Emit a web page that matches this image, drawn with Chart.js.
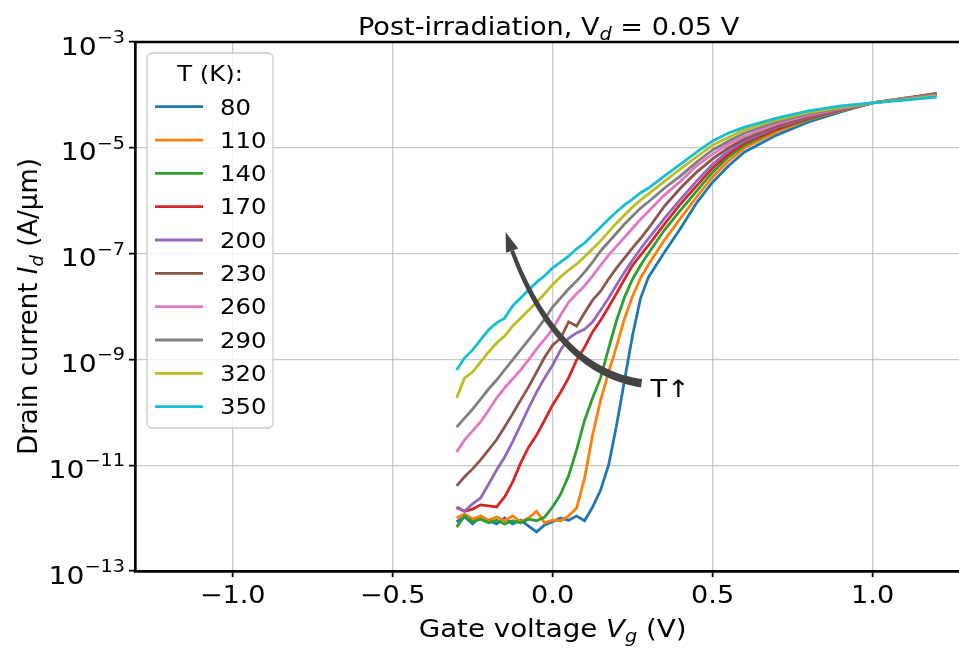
<!DOCTYPE html>
<html>
<head>
<meta charset="utf-8">
<script src="https://cdn.jsdelivr.net/npm/chart.js@4.4.0/dist/chart.umd.min.js"></script>
<style>
    html, body { margin: 0; padding: 0; background: #ffffff; }
    #caixa { position: relative; width: 959px; height: 648px; }
</style>
</head>
<body>
<div id="caixa"><canvas id="graficoIdVg"></canvas></div>
<script>

// Tensão de porta (V), comum a todas as curvas
var vg = [-0.3, -0.275, -0.25, -0.225, -0.2, -0.175, -0.15, -0.125, -0.1, -0.075,
    -0.05, -0.025, 0.0, 0.025, 0.05, 0.075, 0.1, 0.125, 0.15, 0.175,
    0.2, 0.225, 0.25, 0.275, 0.3, 0.35, 0.4, 0.45, 0.5, 0.55,
    0.6, 0.7, 0.8, 0.9, 1.0, 1.1, 1.2];

// Temperaturas da legenda (K)
var temperaturas = [80, 110, 140, 170, 200, 230, 260, 290, 320, 350];

// log10 da corrente de dreno (A/um), uma lista por temperatura
var logId80 = [-12.07, -11.98, -12.11, -11.96, -12.05, -12.11, -12.00, -12.11, -12.04, -12.15,
    -12.26, -12.13, -12.07, -12.00, -12.04, -11.96, -12.05, -11.79, -11.47, -11.00,
    -10.24, -9.39, -8.54, -7.84, -7.44, -6.97, -6.52, -6.04, -5.65, -5.34,
    -5.08, -4.76, -4.51, -4.32, -4.15, -4.06, -3.98];
var logId110 = [-12.00, -11.92, -12.02, -11.96, -12.04, -11.98, -12.05, -11.96, -12.07, -12.00,
    -11.87, -12.09, -12.04, -12.05, -11.96, -11.81, -11.24, -10.43, -9.77, -9.24,
    -8.75, -8.22, -7.80, -7.46, -7.20, -6.74, -6.33, -5.93, -5.55, -5.25,
    -5.00, -4.70, -4.47, -4.30, -4.15, -4.06, -3.98];
var logId140 = [-12.17, -11.96, -12.07, -12.02, -12.09, -12.04, -12.11, -12.05, -12.09, -12.02,
    -12.05, -11.98, -11.79, -11.55, -11.20, -10.71, -10.15, -9.73, -9.35, -8.79,
    -8.26, -7.82, -7.48, -7.22, -6.99, -6.55, -6.18, -5.82, -5.46, -5.17,
    -4.95, -4.66, -4.46, -4.29, -4.15, -4.07, -3.98];
var logId170 = [-11.79, -11.87, -11.83, -11.75, -11.77, -11.79, -11.60, -11.32, -10.96, -10.66,
    -10.43, -10.15, -9.86, -9.62, -9.35, -9.01, -8.77, -8.48, -8.26, -8.01,
    -7.75, -7.48, -7.22, -7.03, -6.84, -6.44, -6.06, -5.72, -5.38, -5.12,
    -4.91, -4.65, -4.44, -4.29, -4.15, -4.07, -3.98];
var logId200 = [-11.81, -11.87, -11.73, -11.62, -11.36, -11.09, -10.85, -10.56, -10.24, -9.92,
    -9.62, -9.35, -9.11, -8.82, -8.60, -8.50, -8.43, -8.29, -8.07, -7.84,
    -7.59, -7.35, -7.12, -6.91, -6.71, -6.33, -5.97, -5.63, -5.31, -5.06,
    -4.87, -4.61, -4.42, -4.28, -4.15, -4.07, -3.98];
var logId230 = [-11.39, -11.22, -11.07, -10.90, -10.71, -10.52, -10.28, -10.03, -9.77, -9.52,
    -9.24, -8.96, -8.73, -8.60, -8.29, -8.37, -8.12, -7.88, -7.71, -7.48,
    -7.27, -7.08, -6.89, -6.71, -6.52, -6.10, -5.76, -5.46, -5.21, -5.00,
    -4.83, -4.59, -4.40, -4.27, -4.15, -4.07, -3.97];
var logId260 = [-10.75, -10.52, -10.35, -10.18, -9.96, -9.73, -9.54, -9.37, -9.20, -9.01,
    -8.80, -8.62, -8.43, -8.16, -7.92, -7.76, -7.61, -7.42, -7.22, -7.03,
    -6.86, -6.69, -6.52, -6.35, -6.20, -5.89, -5.63, -5.34, -5.12, -4.93,
    -4.78, -4.55, -4.38, -4.26, -4.15, -4.07, -4.00];
var logId290 = [-10.28, -10.11, -9.94, -9.75, -9.56, -9.39, -9.20, -9.01, -8.82, -8.63,
    -8.44, -8.24, -8.01, -7.84, -7.67, -7.52, -7.35, -7.16, -6.95, -6.78,
    -6.61, -6.44, -6.29, -6.14, -6.02, -5.76, -5.53, -5.27, -5.04, -4.87,
    -4.72, -4.51, -4.36, -4.25, -4.15, -4.08, -4.01];
var logId320 = [-9.73, -9.35, -9.24, -9.05, -8.86, -8.69, -8.56, -8.37, -8.22, -8.07,
    -7.92, -7.76, -7.59, -7.44, -7.31, -7.20, -7.06, -6.91, -6.76, -6.59,
    -6.42, -6.27, -6.12, -5.99, -5.87, -5.63, -5.40, -5.17, -4.95, -4.80,
    -4.66, -4.47, -4.33, -4.24, -4.15, -4.09, -4.02];
var logId350 = [-9.20, -8.97, -8.82, -8.63, -8.44, -8.31, -8.22, -7.99, -7.84, -7.69,
    -7.54, -7.42, -7.27, -7.16, -7.05, -6.91, -6.80, -6.65, -6.50, -6.35,
    -6.21, -6.08, -5.97, -5.85, -5.76, -5.53, -5.31, -5.08, -4.87, -4.72,
    -4.61, -4.44, -4.30, -4.21, -4.15, -4.10, -4.04];

var series = [logId80, logId110, logId140, logId170, logId200, logId230, logId260, logId290, logId320, logId350];

// Cores padrão do matplotlib (tab10)
var cores = ["#1f77b4", "#ff7f0e", "#2ca02c", "#d62728", "#9467bd",
    "#8c564b", "#e377c2", "#7f7f7f", "#bcbd22", "#17becf"];

// Marcas dos eixos
var xTicks = [-1.0, -0.5, 0.0, 0.5, 1.0];
var yExpoentes = [-13, -11, -9, -7, -5, -3];

// Seta "T↑" em coordenadas de dados (Vg, log10 Id)
var setaCauda = [0.278, -9.45];
var setaControle = [-0.006, -9.20];
var setaPonta = [-0.147, -6.59];
var setaTexto = [0.306, -9.71];

// O texto da figura original está um pouco esticado na horizontal
var ESTICA = 1.13;
var corGrade = "rgba(176,176,176,0.7)";

function fonte(tamanho, italico) {
    return (italico ? "italic " : "") + tamanho + "px 'DejaVu Sans'";
}

// Desenha um texto em pedaços: [texto, tamanho, itálico, deslocamento vertical]
function desenhaPartes(ctx, partes, x, y, alinhamento, estica) {
    var total = 0;
    partes.forEach(function (p) {
        ctx.font = fonte(p[1], p[2]);
        total += ctx.measureText(p[0]).width * estica;
    });
    var inicio = x;
    if (alinhamento === "center") inicio = x - total / 2;
    if (alinhamento === "right") inicio = x - total;
    ctx.textAlign = "left";
    ctx.textBaseline = "alphabetic";
    partes.forEach(function (p) {
        ctx.font = fonte(p[1], p[2]);
        var w = ctx.measureText(p[0]).width * estica;
        ctx.save();
        ctx.translate(inicio, y + (p[3] || 0));
        ctx.scale(estica, 1);
        ctx.fillText(p[0], 0, 0);
        ctx.restore();
        inicio += w;
    });
}

var datasets = temperaturas.map(function (t, i) {
    return {
        label: String(t),
        data: vg.map(function (v, k) {
            return { x: v, y: Math.pow(10, series[i][k]) };
        }),
        borderColor: cores[i],
        backgroundColor: cores[i],
        borderWidth: 2.8,
        pointRadius: 0,
        tension: 0,
        fill: false,
        // a curva de 350 K fica por cima, como no matplotlib
        order: temperaturas.length - i
    };
});

// Seta curva desenhada sobre as curvas
var pluginSeta = {
    id: "seta",
    afterDatasetsDraw: function (chart) {
        var ctx = chart.ctx;
        var sx = chart.scales.x, sy = chart.scales.y;
        function ponto(p) { return [sx.getPixelForValue(p[0]), sy.getPixelForValue(Math.pow(10, p[1]))]; }
        var p0 = ponto(setaCauda), p1 = ponto(setaControle), p2 = ponto(setaPonta);
        function bez(t) {
            var a = (1 - t) * (1 - t), b = 2 * (1 - t) * t, c = t * t;
            return [a * p0[0] + b * p1[0] + c * p2[0], a * p0[1] + b * p1[1] + c * p2[1]];
        }
        function tang(t) {
            var dx = 2 * (1 - t) * (p1[0] - p0[0]) + 2 * t * (p2[0] - p1[0]);
            var dy = 2 * (1 - t) * (p1[1] - p0[1]) + 2 * t * (p2[1] - p1[1]);
            var l = Math.sqrt(dx * dx + dy * dy);
            return [dx / l, dy / l];
        }
        var tFim = 0.93;
        var esq = [], dir = [];
        for (var i = 0; i <= 40; i++) {
            var t = tFim * i / 40;
            var p = bez(t), d = tang(t);
            var w = (8.5 - 4.5 * t / tFim) / 2;
            esq.push([p[0] - d[1] * w, p[1] + d[0] * w]);
            dir.push([p[0] + d[1] * w, p[1] - d[0] * w]);
        }
        ctx.save();
        ctx.fillStyle = "#444444";
        ctx.beginPath();
        ctx.moveTo(esq[0][0], esq[0][1]);
        esq.forEach(function (q) { ctx.lineTo(q[0], q[1]); });
        for (var j = dir.length - 1; j >= 0; j--) ctx.lineTo(dir[j][0], dir[j][1]);
        ctx.closePath();
        ctx.fill();
        // ponta da seta
        var base = bez(tFim), dd = tang(0.97);
        ctx.beginPath();
        ctx.moveTo(p2[0], p2[1]);
        ctx.lineTo(base[0] - dd[1] * 6.5, base[1] + dd[0] * 6.5);
        ctx.lineTo(base[0] + dd[1] * 6.5, base[1] - dd[0] * 6.5);
        ctx.closePath();
        ctx.fill();
        ctx.fillStyle = "#000000";
        var pt = ponto(setaTexto);
        desenhaPartes(ctx, [["T\u2191", 24]], pt[0], pt[1], "left", ESTICA);
        ctx.restore();
    }
};

// Textos, moldura superior, rótulos dos eixos e legenda
var pluginTextos = {
    id: "textos",
    afterDraw: function (chart) {
        var ctx = chart.ctx;
        var area = chart.chartArea;
        var sx = chart.scales.x, sy = chart.scales.y;
        ctx.save();

        // borda de cima
        ctx.strokeStyle = "#000000";
        ctx.lineWidth = 2.7;
        ctx.beginPath();
        ctx.moveTo(area.left - 1.35, area.top);
        ctx.lineTo(area.right, area.top);
        ctx.stroke();

        ctx.fillStyle = "#000000";

        // rótulos do eixo x
        xTicks.forEach(function (v) {
            var txt = v.toFixed(1).replace("-", "\u2212");
            desenhaPartes(ctx, [[txt, 24]], sx.getPixelForValue(v), area.bottom + 32, "center", ESTICA);
        });

        // rótulos do eixo y (10 com expoente)
        yExpoentes.forEach(function (e) {
            var py = sy.getPixelForValue(Math.pow(10, e));
            var sup = "\u2212" + Math.abs(e);
            ctx.font = fonte(17);
            var wSup = ctx.measureText(sup).width * ESTICA;
            var xd = area.left - 10;
            desenhaPartes(ctx, [[sup, 17]], xd, py + 1, "right", ESTICA);
            desenhaPartes(ctx, [["10", 25]], xd - wSup, py + 12.5, "right", ESTICA);
        });

        // título
        desenhaPartes(ctx, [["Post-irradiation, V", 24], ["d", 17, true, 5], [" = 0.05 V", 24]],
            sx.getPixelForValue(0) - 4, 35, "center", ESTICA);

        // título do eixo x
        desenhaPartes(ctx, [["Gate voltage ", 24.5], ["V", 24.5, true], ["g", 17, true, 5], [" (V)", 24.5]],
            sx.getPixelForValue(0), 637, "center", ESTICA);

        // título do eixo y (girado)
        ctx.save();
        ctx.translate(37, (area.top + area.bottom) / 2);
        ctx.rotate(-Math.PI / 2);
        desenhaPartes(ctx, [["Drain current ", 26], ["I", 26, true], ["d", 18, true, 6], [" (A/\u03bcm)", 26]],
            0, 0, "center", 1.0);
        ctx.restore();

        // legenda
        var lx = area.left + 12, ly = area.top + 11, lw = 126, lh = 375;
        ctx.fillStyle = "rgba(255,255,255,0.8)";
        ctx.strokeStyle = "#cccccc";
        ctx.lineWidth = 1.3;
        ctx.beginPath();
        ctx.roundRect(lx, ly, lw, lh, 5);
        ctx.fill();
        ctx.stroke();
        ctx.fillStyle = "#000000";
        desenhaPartes(ctx, [["T (K):", 21.5]], lx + lw / 2, ly + 28, "center", ESTICA);
        temperaturas.forEach(function (t, i) {
            var cy = ly + 53.7 + 33.33 * i;
            ctx.strokeStyle = cores[i];
            ctx.lineWidth = 2.8;
            ctx.beginPath();
            ctx.moveTo(lx + 8, cy);
            ctx.lineTo(lx + 56, cy);
            ctx.stroke();
            ctx.fillStyle = "#000000";
            desenhaPartes(ctx, [[String(t), 21.5]], lx + 73, cy + 7.8, "left", ESTICA);
        });

        ctx.restore();
    }
};

var config = {
    type: "line",
    data: { datasets: datasets },
    options: {
        responsive: true,
        maintainAspectRatio: false,
        animation: false,
        layout: { padding: { top: 42, left: 0, right: 0, bottom: 0 } },
        plugins: {
            legend: { display: false },
            title: { display: false },
            tooltip: { enabled: false }
        },
        scales: {
            x: {
                type: "linear",
                min: -1.305,
                max: 1.27,
                afterBuildTicks: function (scale) {
                    scale.ticks = xTicks.map(function (v) { return { value: v }; });
                },
                afterFit: function (scale) { scale.height = 77; },
                ticks: { display: false },
                grid: { color: corGrade, lineWidth: 1.3, tickLength: 6, tickColor: "#000000", tickWidth: 1.8 },
                border: { color: "#000000", width: 2.7 }
            },
            y: {
                type: "logarithmic",
                min: 1e-13,
                max: 1e-3,
                afterBuildTicks: function (scale) {
                    scale.ticks = yExpoentes.map(function (e) { return { value: Math.pow(10, e) }; });
                },
                afterFit: function (scale) { scale.width = 135; },
                ticks: { display: false },
                grid: { color: corGrade, lineWidth: 1.3, tickLength: 6, tickColor: "#000000", tickWidth: 1.8 },
                border: { color: "#000000", width: 2.7 }
            }
        }
    },
    plugins: [pluginSeta, pluginTextos]
};

var grafico = new Chart(document.getElementById("graficoIdVg"), config);

</script>
</body>
</html>
